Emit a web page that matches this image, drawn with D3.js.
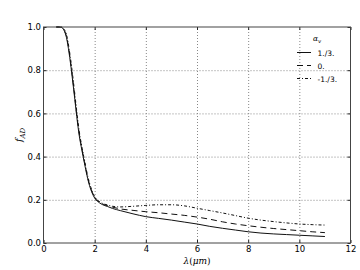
<!DOCTYPE html>
<html><head><meta charset="utf-8">
<script src="https://cdn.jsdelivr.net/npm/d3@7"></script>
<style>body{margin:0;background:#fff}svg{display:block}</style>
</head><body><div id="chart"></div>
<script>
const lambda = [0.5,0.6,0.7,0.8,0.9,1.0,1.1,1.2,1.3,1.4,1.5,1.6,1.7,1.8,1.9,2.0,2.1,2.2,2.3,2.5,2.7,3.0,3.5,4.0,4.5,5.0,5.5,6.0,6.5,7.0,7.5,8.0,8.5,9.0,9.5,10.0,10.5,11.0];
const fPlus  = [1.0,1.0,0.998,0.985,0.95,0.88,0.79,0.69,0.585,0.495,0.43,0.37,0.312,0.265,0.232,0.208,0.194,0.185,0.178,0.169,0.16,0.15,0.135,0.122,0.114,0.106,0.097,0.088,0.077,0.068,0.06,0.052,0.046,0.042,0.039,0.036,0.033,0.030];
const fZero  = [1.0,1.0,0.999,0.987,0.955,0.89,0.80,0.70,0.595,0.505,0.437,0.377,0.318,0.27,0.236,0.211,0.197,0.188,0.181,0.173,0.166,0.158,0.151,0.145,0.14,0.134,0.128,0.12,0.11,0.098,0.088,0.08,0.073,0.067,0.062,0.057,0.052,0.048];
const fMinus = [1.0,1.0,1.0,0.99,0.965,0.90,0.815,0.715,0.61,0.515,0.445,0.385,0.325,0.277,0.241,0.215,0.2,0.191,0.184,0.176,0.17,0.167,0.17,0.174,0.177,0.177,0.172,0.161,0.15,0.139,0.127,0.115,0.106,0.099,0.093,0.088,0.085,0.083];
const seriesLabels = ["1./3.","0.","-1./3."];
const xTicks = [0,2,4,6,8,10,12];
const yTicks = [0.0,0.2,0.4,0.6,0.8,1.0];

const W=360,H=270;
const svg=d3.select("#chart").append("svg").attr("width",W).attr("height",H);
svg.append("rect").attr("width",W).attr("height",H).attr("fill","#fff");
const x=d3.scaleLinear().domain([0,12]).range([43.5,350.5]);
const y=d3.scaleLinear().domain([0,1]).range([243,27]);
const font="DejaVu Sans, sans-serif";

// grid
const gx=svg.append("g").attr("transform",`translate(0,${y(0)})`)
  .call(d3.axisBottom(x).tickValues(xTicks.slice(1,-1)).tickSize(-(y(0)-y(1))).tickFormat(""));
const gy=svg.append("g").attr("transform",`translate(${x(0)},0)`)
  .call(d3.axisLeft(y).tickValues(yTicks.slice(1,-1)).tickSize(-(x(12)-x(0))).tickFormat(""));
[gx,gy].forEach(g=>{g.select(".domain").remove();
  g.selectAll("line").attr("stroke","#888").attr("stroke-width",1).attr("stroke-dasharray","1,2");});

// lines
const styles=[{d:null,w:1},{d:"6,4",w:1},{d:"3,2,1,2",w:1}];
const data=[fPlus,fZero,fMinus];
const line=d3.line().x(d=>x(d[0])).y(d=>y(d[1])).curve(d3.curveMonotoneX);
data.forEach((s,i)=>{
  svg.append("path").datum(lambda.map((l,j)=>[l,s[j]]))
    .attr("d",line).attr("fill","none").attr("stroke","#111")
    .attr("stroke-width",styles[i].w).attr("stroke-dasharray",styles[i].d);
});

// axes
const ax=svg.append("g").attr("transform",`translate(0,${y(0)})`)
  .call(d3.axisBottom(x).tickValues(xTicks).tickSizeInner(-3).tickSizeOuter(0).tickPadding(3).tickFormat(d3.format("d")));
const ay=svg.append("g").attr("transform",`translate(${x(0)},0)`)
  .call(d3.axisLeft(y).tickValues(yTicks).tickSizeInner(-3).tickSizeOuter(0).tickPadding(2.5).tickFormat(d3.format(".1f")));
[ax,ay].forEach(g=>{g.select(".domain").remove();
  g.selectAll("line").attr("stroke","#222");
  g.selectAll("text").attr("font-family",font).attr("font-size",8.5).attr("fill","#000");});
const at=svg.append("g").attr("transform",`translate(0,${y(1)})`)
  .call(d3.axisTop(x).tickValues(xTicks).tickSizeInner(-3).tickSizeOuter(0).tickFormat(""));
const ar=svg.append("g").attr("transform",`translate(${x(12)},0)`)
  .call(d3.axisRight(y).tickValues(yTicks).tickSizeInner(-3).tickSizeOuter(0).tickFormat(""));
[at,ar].forEach(g=>{g.select(".domain").remove();g.selectAll("line").attr("stroke","#222");});

// frame
svg.append("rect").attr("x",x(0)).attr("y",y(1)).attr("width",x(12)-x(0)).attr("height",y(0)-y(1))
  .attr("fill","none").attr("stroke","#444").attr("stroke-width",1);

// axis labels
const xl=svg.append("text").attr("x",197).attr("y",264).attr("text-anchor","middle")
  .attr("font-family","DejaVu Serif, serif").attr("font-size",9);
xl.append("tspan").attr("font-style","italic").text("λ");
xl.append("tspan").text("(");
xl.append("tspan").attr("font-style","italic").text("μm");
xl.append("tspan").text(")");
const yl=svg.append("text").attr("transform","translate(22,135) rotate(-90)").attr("text-anchor","middle")
  .attr("font-family","DejaVu Serif, serif").attr("font-size",9.5);
yl.append("tspan").attr("font-style","italic").text("f");
yl.append("tspan").attr("font-style","italic").attr("font-size",7).attr("dy",2.5).text("AD");

// legend
const lg=svg.append("g");
const lt=lg.append("text").attr("x",313).attr("y",41).attr("font-family","DejaVu Serif, serif").attr("font-size",7.5);
lt.append("tspan").attr("font-style","italic").text("α");
lt.append("tspan").attr("font-style","italic").attr("font-size",5.5).attr("dy",2).text("v");
seriesLabels.forEach((lab,i)=>{
  const yy=52.5+i*13;
  lg.append("line").attr("x1",297).attr("x2",311).attr("y1",yy).attr("y2",yy)
    .attr("stroke","#111").attr("stroke-width",1).attr("stroke-dasharray",styles[i].d);
  lg.append("text").attr("x",317.5).attr("y",yy+3).attr("font-family",font).attr("font-size",7.5).text(lab);
});
</script></body></html>
